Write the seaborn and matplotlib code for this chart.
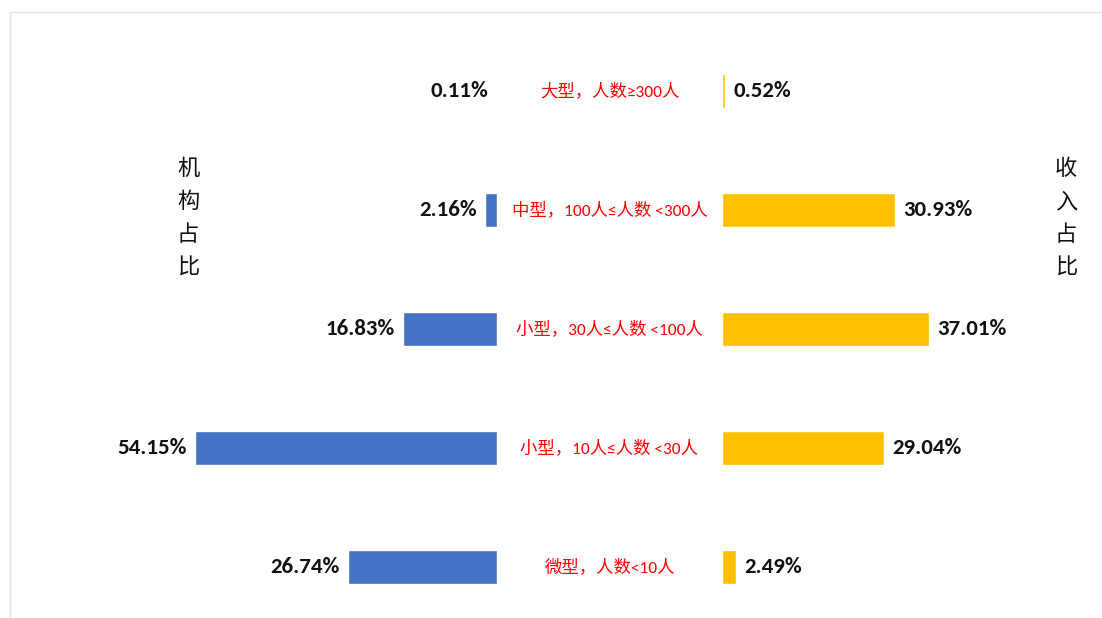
import matplotlib
matplotlib.use("Agg")
import matplotlib.pyplot as plt
import matplotlib.transforms as mtransforms
from matplotlib.patches import Rectangle
import seaborn as sns
import pandas as pd

# data
categories = ["大型，人数≥300人", "中型，100人≤人数 <300人", "小型，30人≤人数 <100人",
              "小型，10人≤人数 <30人", "微型，人数<10人"]
org_share = [0.11, 2.16, 16.83, 54.15, 26.74]
income_share = [0.52, 30.93, 37.01, 29.04, 2.49]

df = pd.DataFrame({"类别": categories, "机构占比": org_share, "收入占比": income_share})

sns.set_theme(style="white")
plt.rcParams["font.family"] = ["Noto Sans CJK SC", "DejaVu Sans"]

blue = "#4472C4"
gold = "#FFC000"
num_font = ["Carlito", "Noto Sans CJK SC", "DejaVu Sans"]

W, H = 1102, 618
fig = plt.figure(figsize=(W / 100, H / 100), dpi=100)

# faint frame around the chart area
fig.patches.append(Rectangle((10 / W, -0.05), 1.1, 1 - 12 / H + 0.05, transform=fig.transFigure,
                             fill=False, edgecolor="#e4e4e4", linewidth=1))

axl = fig.add_axes([0.1472, 0.0248, 0.3038, 0.8858])
axr = fig.add_axes([0.6552, 0.0248, 0.3038, 0.8858])

sns.barplot(data=df, x="机构占比", y="类别", orient="h", color=blue, width=0.28,
            saturation=1, ax=axl)
sns.barplot(data=df, x="收入占比", y="类别", orient="h", color=gold, width=0.28,
            saturation=1, ax=axr)

axl.set_xlim(60, 0)
axr.set_xlim(0, 60)
for ax in (axl, axr):
    ax.set_ylim(4.3, -0.3)
    ax.set_axis_off()

for i, v in enumerate(org_share):
    axl.annotate(f"{v:.2f}%", (v, i), xytext=(-6, 0), textcoords="offset points",
                 ha="right", va="center", fontsize=16.5, fontweight="bold",
                 family=num_font, color="#111111")
for i, v in enumerate(income_share):
    axr.annotate(f"{v:.2f}%", (v, i), xytext=(6, 0), textcoords="offset points",
                 ha="left", va="center", fontsize=16.5, fontweight="bold",
                 family=num_font, color="#111111")

trans = mtransforms.blended_transform_factory(fig.transFigure, axl.transData)
for i, c in enumerate(categories):
    fig.text(609.5 / W, i, c, transform=trans, ha="center", va="center",
             fontsize=12.5, color="#FF0000", family=num_font)

fig.text(188 / W, 1 - 218 / H, "\n".join("机构占比"), ha="center", va="center",
         fontsize=16, linespacing=1.55, color="#111111", fontweight="medium")
fig.text(1066 / W, 1 - 218 / H, "\n".join("收入占比"), ha="center", va="center",
         fontsize=16, linespacing=1.55, color="#111111", fontweight="medium")

fig.savefig("out.png", dpi=100)
